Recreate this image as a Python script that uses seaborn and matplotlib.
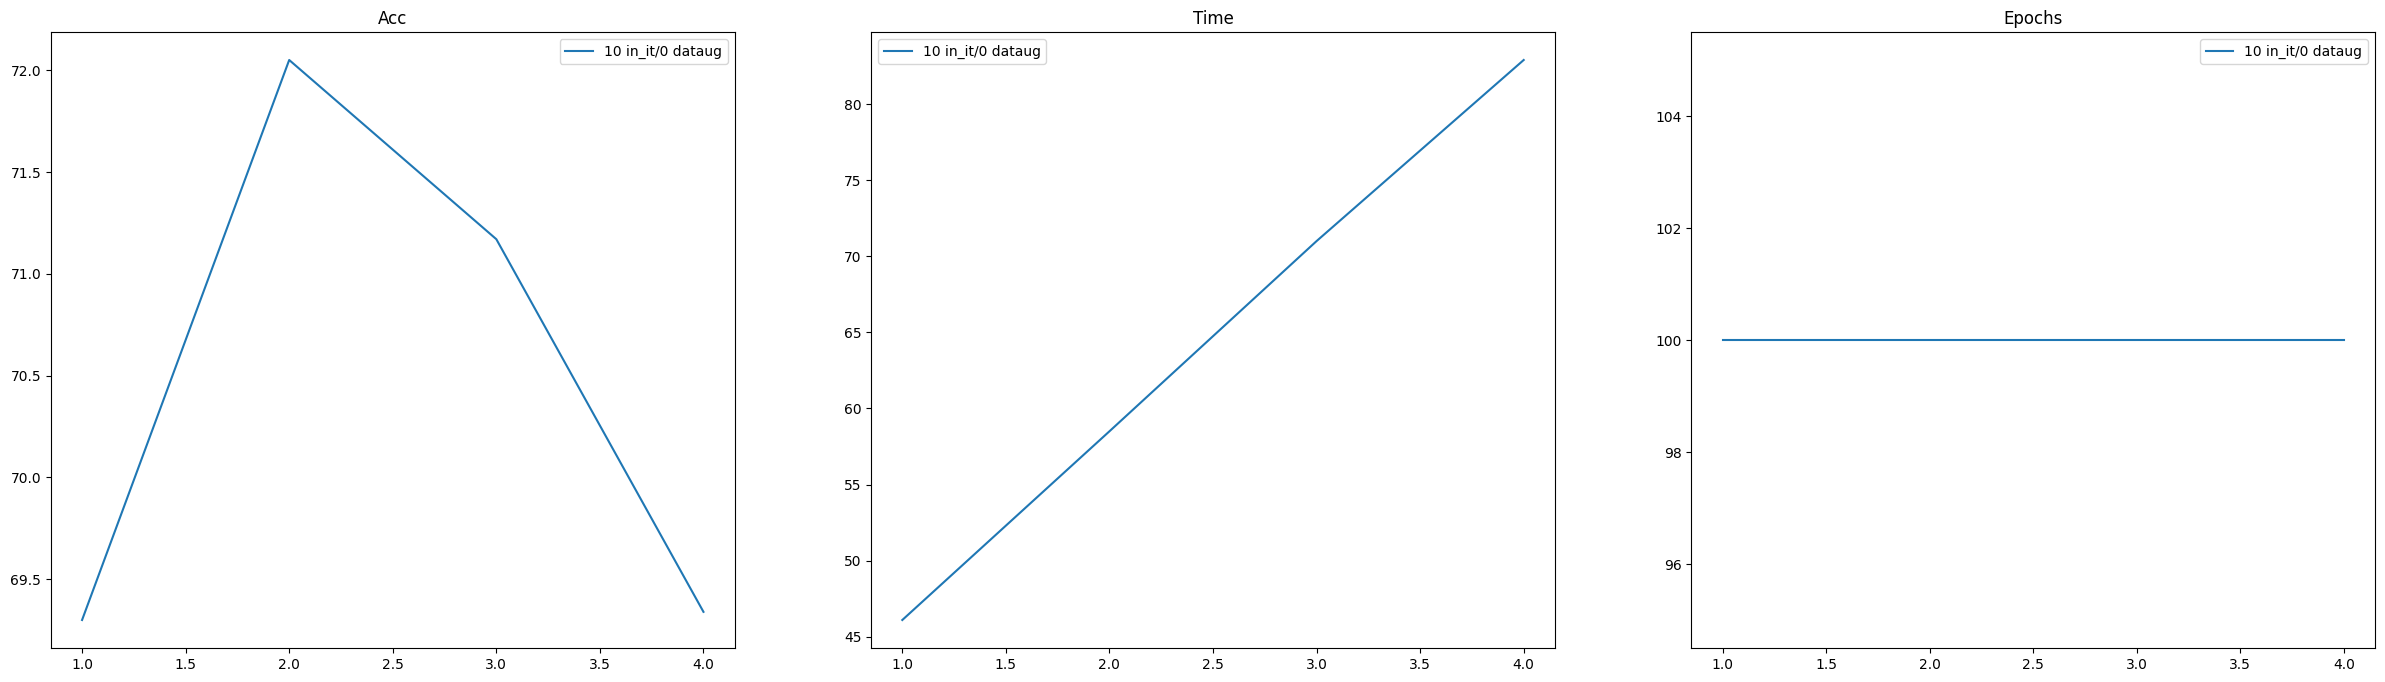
import matplotlib
matplotlib.use("Agg")
import matplotlib.pyplot as plt
import seaborn as sns
import pandas as pd

runs = [1, 2, 3, 4]
acc = [69.30, 72.05, 71.17, 69.34]
time_vals = [46.1, 58.5, 71.0, 82.9]
epochs = [100, 100, 100, 100]
titles = ["Acc", "Time", "Epochs"]
label = "10 in_it/0 dataug"

fig, axes = plt.subplots(1, 3, figsize=(23.85, 6.82), dpi=100)
fig.subplots_adjust(left=51/2385, right=2375/2385, top=1-32/682, bottom=1-648/682, wspace=0.2)

for ax, vals, title in zip(axes, [acc, time_vals, epochs], titles):
    df = pd.DataFrame({"x": runs, "y": vals})
    sns.lineplot(data=df, x="x", y="y", ax=ax, color="#1f77b4", label=label)
    ax.set_title(title)
    ax.set_xlabel("")
    ax.set_ylabel("")
    ax.legend(loc="best")

fig.savefig("out.png", dpi=100)
